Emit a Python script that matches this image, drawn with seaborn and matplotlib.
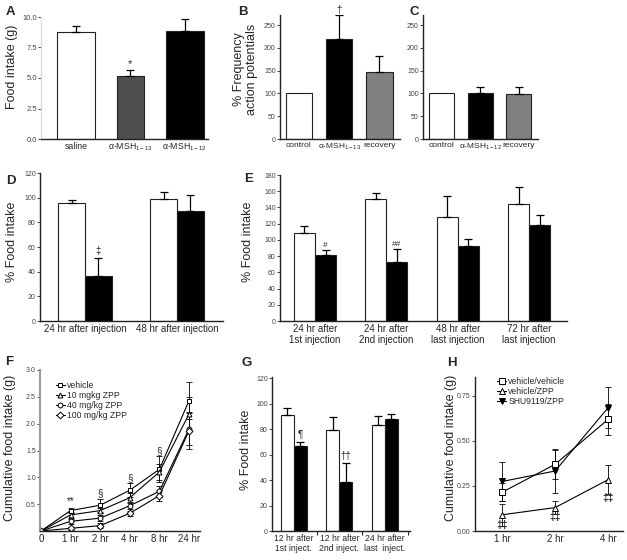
import numpy as np
import pandas as pd
import matplotlib
matplotlib.use("Agg")
import matplotlib.pyplot as plt
import seaborn as sns

sns.set_style("ticks")
plt.rcParams['font.family'] = ['Liberation Sans', 'DejaVu Sans']
plt.rcParams['mathtext.fontset'] = 'custom'
plt.rcParams['mathtext.rm'] = 'Liberation Sans'
plt.rcParams['mathtext.it'] = 'Liberation Sans:italic'
plt.rcParams['mathtext.bf'] = 'Liberation Sans:bold'
plt.rcParams['axes.unicode_minus'] = False

W, H = 627, 560

# ---- values ----
# A: food intake (g)
a_groups = ["saline", "α-MSH$_\\mathregular{1-13}$", "α-MSH$_\\mathregular{1-12}$"]
a_vals = [8.75, 5.15, 8.85]
a_err = [0.5, 0.5, 0.95]
a_colors = ["white", "#4f4f4f", "black"]

# B / C: % frequency of action potentials
b_groups = ["control", "α-MSH$_\\mathregular{1-13}$", "recovery"]
b_vals = [100, 219, 148]
b_err = [0, 52, 33]
c_groups = ["control", "α-MSH$_\\mathregular{1-12}$", "recovery"]
c_vals = [100, 101, 99]
c_err = [0, 12, 15]
bc_colors = ["white", "black", "#808080"]

# D
d_labels = ["24 hr after injection", "48 hr after injection"]
d_ctrl = [95.5, 99]
d_ctrl_err = [2.5, 5.5]
d_trt = [36.5, 89.5]
d_trt_err = [14.5, 12.5]

# E
e_labels = ["24 hr after\n1st injection", "24 hr after\n2nd injection",
            "48 hr after\nlast injection", "72 hr after\nlast injection"]
e_ctrl = [108, 150, 128, 144]
e_ctrl_err = [9.5, 8, 26, 21]
e_trt = [81.5, 73, 92, 118]
e_trt_err = [6, 16, 8.5, 13]

# F: cumulative food intake (g)
f_times = ["0", "1 hr", "2 hr", "4 hr", "8 hr", "24 hr"]
f_vehicle = [0, 0.38, 0.48, 0.76, 1.15, 2.43]
f_vehicle_err = [0.02, 0.05, 0.12, 0.13, 0.24, 0.34]
f_10 = [0, 0.30, 0.38, 0.62, 1.10, 2.18]
f_10_err = [0.02, 0.05, 0.05, 0.08, 0.15, 0.32]
f_40 = [0, 0.18, 0.24, 0.47, 0.74, 1.90]
f_40_err = [0.02, 0.05, 0.05, 0.06, 0.10, 0.30]
f_100 = [0, 0.05, 0.10, 0.33, 0.66, 1.87]
f_100_err = [0.02, 0.03, 0.04, 0.05, 0.10, 0.34]

# G
g_labels = ["12 hr after\n1st inject.", "12 hr after\n2nd inject.", "24 hr after\nlast  inject."]
g_ctrl = [91.5, 79.5, 83.5]
g_ctrl_err = [5.5, 10, 6.5]
g_trt = [66.5, 38.5, 87.7]
g_trt_err = [3.5, 15.2, 4.2]

# H
h_times = ["1 hr", "2 hr", "4 hr"]
h_vv = [0.215, 0.37, 0.62]
h_vv_err = [0.05, 0.08, 0.085]
h_vz = [0.09, 0.13, 0.285]
h_vz_err = [0.06, 0.035, 0.08]
h_shu = [0.275, 0.333, 0.685]
h_shu_err = [0.11, 0.12, 0.115]


def px_axes(fig, x0, x1, ytop, ybot):
    return fig.add_axes([x0 / W, 1 - ybot / H, (x1 - x0) / W, (ybot - ytop) / H])


def style(ax, ylabel, label_xy, yticks, yticklabels, ysize=5, xsize=7):
    sns.despine(ax=ax)
    for s in ("left", "bottom"):
        ax.spines[s].set_linewidth(1.0)
        ax.spines[s].set_color("#222222")
    ax.set_yticks(yticks)
    ax.set_yticklabels(yticklabels)
    ax.tick_params(axis="y", length=2, width=0.6, labelsize=ysize, pad=1, labelcolor="#444444")
    ax.tick_params(axis="x", length=0, labelsize=xsize, pad=2)
    ax.set_ylabel(ylabel, fontsize=9)
    ax.yaxis.set_label_coords(*label_xy)
    ax.set_xlabel("")


def upper_errors(ax, errs):
    bars = sorted(ax.patches, key=lambda p: p.get_x())
    for p, e in zip(bars, errs):
        if e <= 0:
            continue
        ax.errorbar(p.get_x() + p.get_width() / 2, p.get_height(), yerr=[[0], [e]],
                    fmt="none", ecolor="black", elinewidth=0.9, capsize=3, capthick=0.9)
    return bars


def simple_bars(ax, groups, vals, errs, colors, width):
    sns.barplot(x=groups, y=vals, hue=groups, palette=colors, legend=False, width=width,
                edgecolor="#222222", linewidth=0.8, saturation=1, ax=ax)
    return upper_errors(ax, errs)


def grouped_bars(ax, labels, ctrl, ctrl_err, trt, trt_err, width):
    n = len(labels)
    df = pd.DataFrame({"time": labels * 2, "group": ["ctrl"] * n + ["trt"] * n,
                       "value": ctrl + trt})
    sns.barplot(data=df, x="time", y="value", hue="group", palette=["white", "black"],
                width=width, gap=0, edgecolor="#222222", linewidth=0.8, saturation=1,
                legend=False, ax=ax)
    errs = np.column_stack([ctrl_err, trt_err]).ravel()
    return upper_errors(ax, errs)


def mark(ax, bar, err, s, dy, size=7):
    ax.text(bar.get_x() + bar.get_width() / 2, bar.get_height() + err + dy, s,
            ha="center", va="bottom", fontsize=size)


fig = plt.figure(figsize=(W / 100, H / 100), dpi=100)

# ---- A ----
ax = px_axes(fig, 41, 208, 17, 139)
bars = simple_bars(ax, a_groups, a_vals, a_err, a_colors, 0.7)
mid = bars[1]
cx = mid.get_x() + mid.get_width() / 2
mid.set_width(mid.get_width() * 0.72)
mid.set_x(cx - mid.get_width() / 2)
ax.set_xlim(-0.645, 2.43)
ax.set_ylim(0, 10)
style(ax, "Food intake (g)", (-0.14, 0.59), [0, 2.5, 5, 7.5, 10],
      ["0.0", "2.5", "5.0", "7.5", "10.0"], ysize=5.5, xsize=6.3)
ax.spines["left"].set_color("#dddddd")
mark(ax, bars[1], a_err[1], "*", 0.05, 8)

# ---- B ----
ax = px_axes(fig, 280, 400, 15, 139)
bars = simple_bars(ax, b_groups, b_vals, b_err, bc_colors, 0.66)
ax.set_xlim(-0.47, 2.51)
ax.set_ylim(0, 272)
style(ax, "% Frequency\naction potentials", (-0.18, 0.565), range(0, 251, 50),
      [str(v) for v in range(0, 251, 50)], xsize=6)
mark(ax, bars[1], b_err[1], "†", 1)

# ---- C ----
ax = px_axes(fig, 423, 538, 15, 139)
simple_bars(ax, c_groups, c_vals, c_err, bc_colors, 0.65)
ax.set_xlim(-0.48, 2.5)
ax.set_ylim(0, 272)
style(ax, "", (-0.18, 0.5), range(0, 251, 50), [str(v) for v in range(0, 251, 50)], xsize=6)

# ---- D ----
ax = px_axes(fig, 40, 223, 173, 321)
bars = grouped_bars(ax, d_labels, d_ctrl, d_ctrl_err, d_trt, d_trt_err, 0.58)
ax.set_xlim(-0.49, 1.5)
ax.set_ylim(0, 120)
style(ax, "% Food intake", (-0.12, 0.535), range(0, 121, 20), [str(v) for v in range(0, 121, 20)])
mark(ax, bars[1], d_trt_err[0], "‡", 1.5)

# ---- E ----
ax = px_axes(fig, 280, 567, 175, 321)
bars = grouped_bars(ax, e_labels, e_ctrl, e_ctrl_err, e_trt, e_trt_err, 0.59)
ax.set_xlim(-0.49, 3.53)
ax.set_ylim(0, 180)
style(ax, "% Food intake", (-0.09, 0.54), range(0, 181, 20), [str(v) for v in range(0, 181, 20)])
mark(ax, bars[1], e_trt_err[0], "#", 1.5, 6)
mark(ax, bars[3], e_trt_err[1], "##", 1.5, 6)

# ---- F ----
ax = px_axes(fig, 40, 200, 370, 531)
f_pos = np.arange(len(f_times))
f_lines = [("vehicle", f_vehicle, f_vehicle_err, "s"),
           ("10 mgkg ZPP", f_10, f_10_err, "^"),
           ("40 mg/kg ZPP", f_40, f_40_err, "o"),
           ("100 mg/kg ZPP", f_100, f_100_err, "D")]
for name, vals, errs, mk in f_lines:
    ax.errorbar(f_pos, vals, yerr=errs, fmt="none", ecolor="black", elinewidth=0.6,
                capsize=2, capthick=0.6, zorder=1)
    sns.lineplot(x=f_pos, y=vals, ax=ax, color="black", lw=0.8, marker=mk,
                 markersize=3.5, markerfacecolor="white", markeredgecolor="black",
                 markeredgewidth=0.7, label=name, zorder=2)
ax.set_xlim(-0.03, 5.37)
ax.set_ylim(0, 3.0)
ax.set_xticks(f_pos)
ax.set_xticklabels(f_times)
style(ax, "Cumulative food intake (g)", (-0.15, 0.515), [0.5, 1.0, 1.5, 2.0, 2.5, 3.0],
      ["0.5", "1.0", "1.5", "2.0", "2.5", "3.0"])
ax.spines["left"].set_color("#999999")
ax.spines["left"].set_linewidth(1.5)
ax.legend(loc="upper left", bbox_to_anchor=(0.1, 0.93), frameon=False, fontsize=6.2,
          handlelength=1.0, handletextpad=0.3, labelspacing=0.12, borderpad=0, borderaxespad=0)
for x, y, s in [(1, 0.46, "**"), (2, 0.62, "§"), (3, 0.9, "§"), (4, 1.4, "§")]:
    ax.text(x, y, s, ha="center", va="bottom", fontsize=7)

# ---- G ----
ax = px_axes(fig, 272, 410, 377, 531)
bars = grouped_bars(ax, g_labels, g_ctrl, g_ctrl_err, g_trt, g_trt_err, 0.57)
ax.set_xlim(-0.48, 2.55)
ax.set_ylim(0, 121)
style(ax, "% Food intake", (-0.145, 0.526), range(0, 121, 20),
      [str(v) for v in range(0, 121, 20)], xsize=6.2)
ax.set_xticks([0.5, 1.5, 2.5], minor=True)
ax.tick_params(axis="x", which="minor", length=3, width=0.8)
mark(ax, bars[1], g_trt_err[0], "¶", 1.5)
mark(ax, bars[3], g_trt_err[1], "††", 1.5)

# ---- H ----
ax = px_axes(fig, 475, 623, 377, 531)
h_pos = np.arange(len(h_times))
h_lines = [("vehicle/vehicle", h_vv, h_vv_err, "s", "white"),
           ("vehicle/ZPP", h_vz, h_vz_err, "^", "white"),
           ("SHU9119/ZPP", h_shu, h_shu_err, "v", "black")]
for name, vals, errs, mk, fc in h_lines:
    ax.errorbar(h_pos, vals, yerr=errs, fmt="none", ecolor="black", elinewidth=0.6,
                capsize=2.5, capthick=0.6, zorder=1)
    sns.lineplot(x=h_pos, y=vals, ax=ax, color="black", lw=0.8, marker=mk,
                 markersize=4, markerfacecolor=fc, markeredgecolor="black",
                 markeredgewidth=0.7, label=name, zorder=2)
ax.set_xlim(-0.51, 2.28)
ax.set_ylim(0, 0.855)
ax.set_xticks(h_pos)
ax.set_xticklabels(h_times)
style(ax, "Cumulative food intake (g)", (-0.12, 0.54), [0, 0.25, 0.5, 0.75],
      ["0.00", "0.25", "0.50", "0.75"])
ax.legend(loc="upper left", bbox_to_anchor=(0.15, 1.0), frameon=False, fontsize=6.2,
          handlelength=1.0, handletextpad=0.3, labelspacing=0.1, borderpad=0, borderaxespad=0)
for x, y, s in [(0, 0.005, "‡‡"), (1, 0.05, "‡‡"), (2, 0.155, "‡‡")]:
    ax.text(x, y, s, ha="center", va="bottom", fontsize=7.5, fontweight="bold")

# ---- panel letters ----
for s, x, y in [("A", 6, 6), ("B", 238, 6), ("C", 409, 6), ("D", 6, 175), ("E", 244, 173),
                ("F", 5, 356), ("G", 241, 357), ("H", 447, 357)]:
    fig.text(x / W, 1 - y / H, s, ha="left", va="top", fontsize=9.5, fontweight="bold")

fig.savefig("out.png", dpi=100)
